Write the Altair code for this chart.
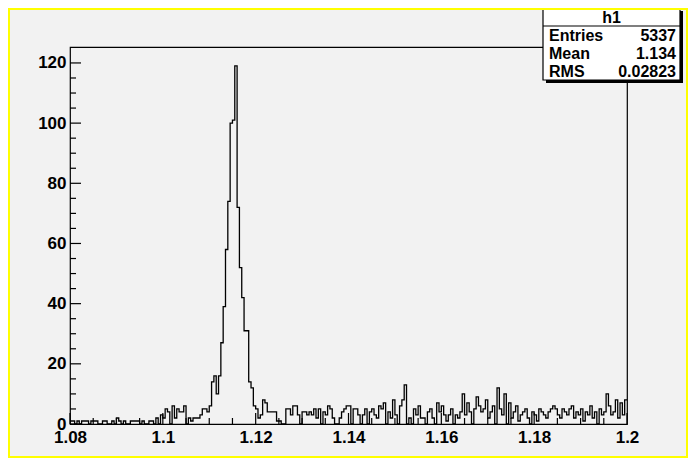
import altair as alt
import pandas as pd

# ---- data ----
x_min, x_max, n_bins = 1.08, 1.20, 240
counts = (
    [1,1,0,1,0,1,1,1,0,1, 1,1,0,0,1,1,0,0,1,0, 2,1,0,1,0,0,1,1,1,1, 0,1,0,0,1,1,0,2,0,3]
    + [2,5,4,0,6,2,5,4,4,6, 0,2,1,2,2,2,3,5,5,4, 6,14,16,10,16]
    + [27,39,58,74,100,101,119,72,52,42, 31,31,14,12,6,5,2,3,8,7, 4,4,4,4,1,1,0,0,5,5]
    + [3,6,6,3,0,4,4,3,4,3, 5,2,5,0,4,3,6,5,2,0,0,2,4,5,6]
    + [6,0,5,5,3,0,3,5,0,4, 5,3,2,6,5,7,0,4,2,8,3,0,6,8,13]
    + [0,2,0,5,3,6,2,2,0,4, 5,2,0,7,4,6,3,1,3,5, 0,3,2,4,10]
    + [3,7,4,0,5,9,6,4,5,8, 2,4,6,0,12,5,3,10,0,7, 2,4,6,1,3]
    + [4,5,2,0,4,3,1,5,4,3, 2,4,5,6,5,3,2,5,4,3, 5,6,2,4,3]
    + [5,1,4,3,6,2,4,0,5,3, 4,10,6,3,4,8,2,7,3,8]
)
x_major = [1.08, 1.10, 1.12, 1.14, 1.16, 1.18, 1.20]
y_major = [0, 20, 40, 60, 80, 100, 120]
stat_title = "h1"
stat_names = ["Entries", "Mean", "RMS"]
stat_values = ["5337", "1.134", "0.02823"]

# ---- tables ----
bw = (x_max - x_min) / n_bins
edges = [x_min + i * bw for i in range(n_bins + 1)]
hist = pd.DataFrame({"x": edges, "y": counts + [counts[-1]]})
x_minor = [round(x_min + i * 0.005, 4) for i in range(25)]
x_minor = [v for v in x_minor if all(abs(v - m) > 1e-6 for m in x_major)]
y_minor = [v for v in range(0, 125, 5) if v % 20 != 0]

W, H = 557, 377
xs = alt.Scale(domain=[x_min, x_max], nice=False, zero=False)
ys = alt.Scale(domain=[0, 125.3], nice=False, zero=True)
FONT = "Liberation Sans"

line = alt.Chart(hist).mark_line(interpolate="step-after", color="black", strokeWidth=1.3).encode(
    x=alt.X("x:Q", scale=xs, title=None,
            axis=alt.Axis(values=x_major, format=".2~f", labelPadding=5, labelFlush=False)),
    y=alt.Y("y:Q", scale=ys, title=None,
            axis=alt.Axis(values=y_major, format="d", labelPadding=4, labelFlush=False)),
)

def xticks(vals, length):
    return alt.Chart(pd.DataFrame({"x": vals})).mark_rule(color="black", strokeWidth=1.2).encode(
        x=alt.X("x:Q", scale=xs, title=None), y=alt.value(H), y2=alt.value(H - length))

def yticks(vals, length):
    return alt.Chart(pd.DataFrame({"y": vals})).mark_rule(color="black", strokeWidth=1.2).encode(
        y=alt.Y("y:Q", scale=ys, title=None), x=alt.value(0), x2=alt.value(length))

# stats box (pixel positions relative to plot area)
bx0, bx1, by0 = 473, 610, -39
rowh = 18
by1 = by0 + 4 * rowh
one = pd.DataFrame({"a": [0]})
shadow = alt.Chart(one).mark_rect(color="black").encode(
    x=alt.value(bx0 + 3), x2=alt.value(bx1 + 3), y=alt.value(by0 + 3), y2=alt.value(by1 + 3))
box = alt.Chart(one).mark_rect(fill="white", stroke="black", strokeWidth=1.2).encode(
    x=alt.value(bx0), x2=alt.value(bx1), y=alt.value(by0), y2=alt.value(by1))
sep = alt.Chart(one).mark_rule(color="black", strokeWidth=1.2).encode(
    x=alt.value(bx0), x2=alt.value(bx1), y=alt.value(by0 + rowh))

def txt(s, x, y, align):
    return alt.Chart(one).mark_text(font=FONT, fontWeight="bold", fontSize=16, align=align,
                                    baseline="middle").encode(
        x=alt.value(x), y=alt.value(y), text=alt.value(s))

texts = [txt(stat_title, (bx0 + bx1) / 2, by0 + rowh / 2 + 1, "center")]
for i, (n, v) in enumerate(zip(stat_names, stat_values)):
    yy = by0 + rowh * (i + 1) + rowh / 2 + 1
    texts.append(txt(n, bx0 + 6, yy, "left"))
    texts.append(txt(v, bx1 - 4, yy, "right"))

border = alt.Chart(one).mark_rect(fill=None, stroke="#ffff00", strokeWidth=2).encode(
    x=alt.value(-61), x2=alt.value(617), y=alt.value(-38), y2=alt.value(410))

chart = alt.layer(
    line, xticks(x_major, 11), xticks(x_minor, 6), yticks(y_major, 11), yticks(y_minor, 6),
    shadow, box, sep, *texts, border,
).properties(
    width=W, height=H,
    autosize=alt.AutoSizeParams(type="none"),
    padding={"left": 62, "top": 39, "right": 61, "bottom": 34},
    background="#f2f2f2",
).configure_view(stroke="black", strokeWidth=1.2).configure_axis(
    labelFont=FONT, labelFontWeight="bold", labelFontSize=17, labelColor="black",
    domain=False, ticks=False, grid=False,
)

chart.save("out.html", embed_options={"renderer": "svg", "actions": False})
